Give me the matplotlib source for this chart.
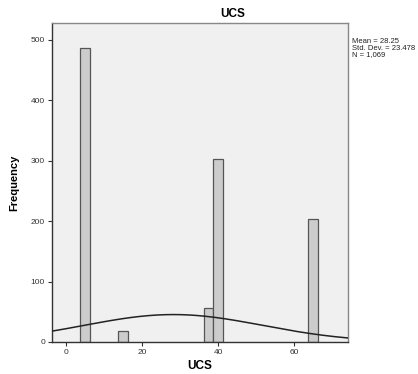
import numpy as np
import matplotlib
matplotlib.use("Agg")
import matplotlib.pyplot as plt

# histogram bins (centres) and counts
bin_centers = [5.0, 15.0, 37.5, 40.0, 65.0]
counts = [486, 19, 57, 303, 204]
bin_width = 2.5

# summary stats shown at right
mean_ucs = 28.25
std_ucs = 23.478
n_ucs = 1069

plt.rcParams['font.family'] = ['Liberation Sans', 'DejaVu Sans']

fig = plt.figure(figsize=(4.18, 3.74), dpi=100)
fig.patch.set_facecolor('white')
ax = fig.add_axes([52/418, 32/374, 296/418, 319/374])
ax.set_facecolor('#F0F0F0')

ax.bar(bin_centers, counts, width=bin_width, color='#CCCCCC',
       edgecolor='#555555', linewidth=0.9, zorder=2)

# normal curve scaled to the histogram
xs = np.linspace(-3.7, 74.2, 300)
ys = n_ucs * bin_width / (std_ucs * np.sqrt(2*np.pi)) * np.exp(-0.5*((xs-mean_ucs)/std_ucs)**2)
ax.plot(xs, ys, color='#222222', linewidth=1.1, zorder=3)

ax.set_xlim(-3.7, 74.2)
ax.set_ylim(0, 528)
ax.set_xticks([0, 20, 40, 60])
ax.set_yticks([0, 100, 200, 300, 400, 500])
ax.tick_params(axis='both', labelsize=6, colors='#333333', length=3, width=0.8,
               direction='out', pad=2)
for side in ['top', 'right']:
    ax.spines[side].set_color('#888888')
    ax.spines[side].set_linewidth(1.0)
for side in ['left', 'bottom']:
    ax.spines[side].set_color('#333333')
    ax.spines[side].set_linewidth(1.0)

ax.set_xlabel('UCS', fontsize=8.5, fontweight='bold', labelpad=3)
ax.set_ylabel('Frequency', fontsize=8, fontweight='bold', labelpad=8)

fig.text(233/418, 1 - 14/374, 'UCS', fontsize=8.5, fontweight='bold',
         ha='center', va='center')
fig.text(352/418, 1 - 38/374,
         'Mean = %.2f\nStd. Dev. = %.3f\nN = 1,069' % (mean_ucs, std_ucs),
         fontsize=5.5, ha='left', va='top', color='#222222', linespacing=0.95)

fig.savefig('out.png', dpi=100)
